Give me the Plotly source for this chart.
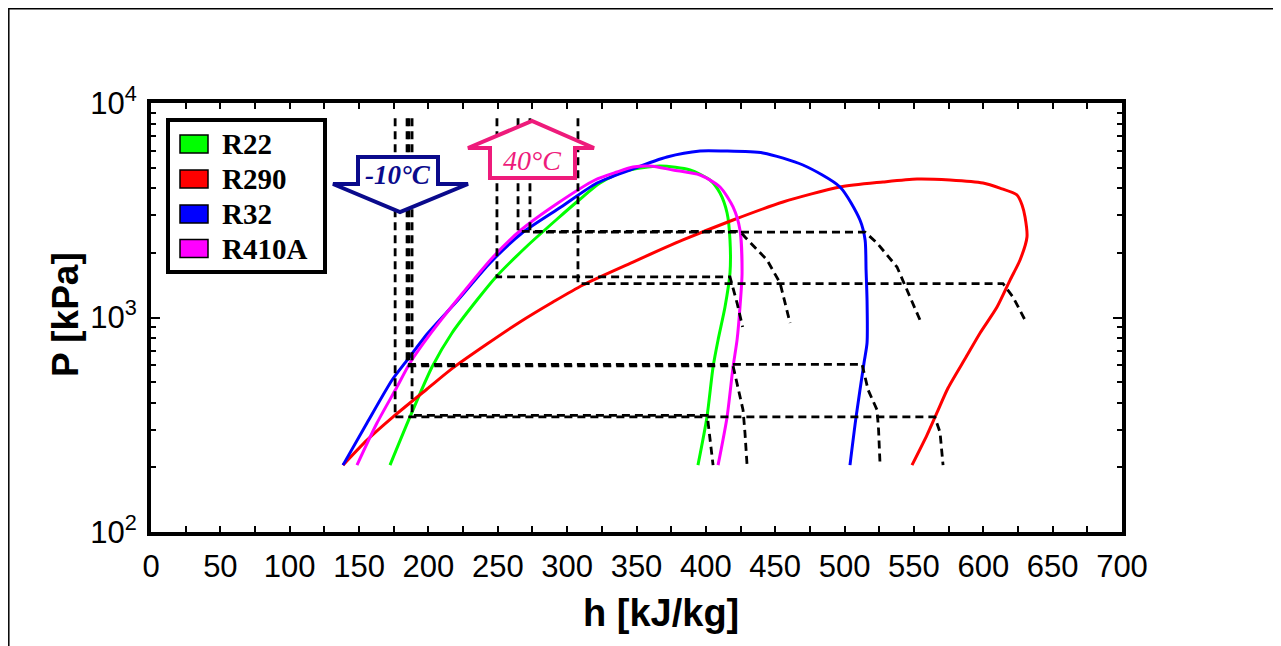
import plotly.graph_objects as go

# ---------------- data (h in kJ/kg, P in kPa) ----------------
refrigerants = ["R22", "R290", "R32", "R410A"]
colors = {"R22": "#00FF00", "R290": "#FF0000", "R32": "#0000FF", "R410A": "#FF00FF"}

# saturation domes (liquid branch -> critical region -> vapour branch)
r22_h = [172.3, 186.7, 202.6, 217.0, 235.0, 248.7, 270.4, 292.0, 308.6, 323.7, 341.7, 367.0,
         388.6, 403.0, 410.2, 415.3, 417.4, 417.4, 413.8, 408.8, 405.2, 400.8, 394.3]
r22_p = [205, 344, 588, 847, 1206, 1545, 2132, 2848, 3530, 4236, 4820, 5085,
         4872, 4375, 3805, 3070, 2298, 1613, 1119, 786, 588, 344, 205]

r290_h = [138.4, 155.7, 174.5, 199.0, 217.7, 242.2, 266.0, 289.8, 311.4, 347.5, 383.5, 419.6,
          455.6, 496.7, 527.7, 552.2, 576.0, 599.8, 612.0, 624.3, 628.0, 630.1, 631.5, 626.5,
          619.3, 609.9, 597.7, 587.6, 574.6, 566.7, 559.4, 548.6]
r290_p = [205, 268, 344, 464, 582, 752, 953, 1181, 1418, 1814, 2298, 2848,
          3455, 4059, 4283, 4423, 4375, 4236, 4010, 3725, 3340, 2941, 2373, 1854,
          1495, 1119, 847, 654, 469, 361, 283, 205]

r32_h = [138.4, 155.7, 173.8, 183.1, 199.7, 221.3, 244.4, 267.5, 295.6, 321.5, 345.3, 372.0,
         395.8, 412.4, 441.2, 470.0, 496.7, 511.1, 514.8, 515.5, 516.2, 516.2, 514.0, 508.3, 503.9]
r32_p = [205, 322, 511, 614, 847, 1206, 1795, 2477, 3275, 4236, 4872, 5603,
         5974, 5974, 5848, 5140, 4059, 2848, 2298, 1665, 1206, 761, 614, 344, 205]

r410a_h = [148.5, 162.9, 177.3, 186.7, 201.9, 220.6, 246.6, 266.7, 293.4, 320.1, 336.0, 347.5,
           359.8, 376.3, 395.8, 410.2, 419.6, 424.6, 426.1, 424.6, 422.5, 419.6, 415.3, 408.8]
r410a_p = [205, 322, 474, 614, 847, 1206, 1915, 2558, 3418, 4375, 4769, 5030,
           5085, 4872, 4617, 4059, 3275, 2558, 1613, 1119, 786, 588, 344, 205]

# isotherm lines (-10 °C and 40 °C) for each refrigerant
r22_m10_h = [188.2, 188.2, 401.0, 403.0, 405.2]
r22_m10_p = [8500, 350, 350, 270, 205]
r22_40_h = [249.4, 249.4, 417.4, 422.5, 426.5]
r22_40_p = [8500, 1545, 1545, 1168, 903]

r410a_m10_h = [186.0, 186.0, 419.6, 422.5, 426.8, 428.2, 429.7]
r410a_m10_p = [8500, 595, 595, 495, 371, 290, 205]
r410a_40_h = [264.6, 264.6, 424.8, 428.2, 444.1, 453.5, 460.7]
r410a_40_p = [8500, 2520, 2520, 2373, 1854, 1448, 943]

r32_m10_h = [184.6, 184.6, 512.6, 517.0, 523.4, 524.5, 525.6]
r32_m10_p = [8500, 605, 605, 459, 371, 300, 205]
r32_40_h = [273.2, 273.2, 514.8, 523.4, 537.8, 545.0, 554.4]
r32_40_p = [8500, 2500, 2500, 2225, 1720, 1343, 973]

r290_m10_h = [176.0, 176.0, 565.0, 568.8, 571.0]
r290_m10_p = [8500, 344, 344, 292, 205]
r290_40_h = [307.8, 307.8, 614.2, 621.4, 630.1]
r290_40_p = [8500, 1440, 1440, 1246, 973]

x_ticks = list(range(0, 701, 50))
y_ticks = [100, 1000, 10000]
y_ticktext = ["10<sup>2</sup>", "10<sup>3</sup>", "10<sup>4</sup>"]

# ---------------- figure ----------------
W, H = 1281, 646
OFF = 8  # page offset of the figure (body margin)
L, R, T, B = 143, 167, 95, 122
PW, PH = W - L - R, H - T - B


def px(x):  # page pixel -> paper x
    return (x - OFF - L) / PW


def py(y):  # page pixel -> paper y
    return (H - B - (y - OFF)) / PH


fig = go.Figure()

domes = {"R22": (r22_h, r22_p), "R290": (r290_h, r290_p),
         "R32": (r32_h, r32_p), "R410A": (r410a_h, r410a_p)}
for name in refrigerants:
    h, p = domes[name]
    fig.add_trace(go.Scatter(x=h, y=p, mode="lines", name=name, showlegend=False,
                             line=dict(color=colors[name], width=3, shape="spline", smoothing=0.7)))

iso = [(r22_m10_h, r22_m10_p), (r22_40_h, r22_40_p),
       (r410a_m10_h, r410a_m10_p), (r410a_40_h, r410a_40_p),
       (r32_m10_h, r32_m10_p), (r32_40_h, r32_40_p),
       (r290_m10_h, r290_m10_p), (r290_40_h, r290_40_p)]
for h, p in iso:
    fig.add_trace(go.Scatter(x=h, y=p, mode="lines", showlegend=False, hoverinfo="skip",
                             line=dict(color="black", width=2.8, dash="8px,5px")))

shapes = []
annotations = []

# outer frame
shapes.append(dict(type="rect", xref="paper", yref="paper",
                   x0=px(8.8), x1=px(1320), y0=py(700), y1=py(8.8),
                   line=dict(color="black", width=1.5), fillcolor="rgba(0,0,0,0)", layer="below"))


def poly(points):
    return "M " + " L ".join(f"{px(a):.5f},{py(b):.5f}" for a, b in points) + " Z"


# -10 °C arrow (down)
navy = "#0A0A8C"
shapes.append(dict(type="path", xref="paper", yref="paper",
                   path=poly([(358, 157), (438, 157), (438, 184), (468, 184), (400, 212),
                              (333, 184), (358, 184)]),
                   line=dict(color=navy, width=4), fillcolor="white", layer="above"))
annotations.append(dict(x=px(398), y=py(175), xref="paper", yref="paper", text="<b><i>-10°C</i></b>",
                        showarrow=False, font=dict(family="Liberation Serif", size=27, color=navy),
                        xanchor="center", yanchor="middle"))

# 40 °C arrow (up)
pink = "#EE1B7B"
shapes.append(dict(type="path", xref="paper", yref="paper",
                   path=poly([(490, 178), (575, 178), (575, 148), (594, 148), (532, 121),
                              (468, 148), (490, 148)]),
                   line=dict(color=pink, width=4), fillcolor="white", layer="above"))
annotations.append(dict(x=px(532), y=py(160), xref="paper", yref="paper", text="<i>40°C</i>",
                        showarrow=False, font=dict(family="Liberation Serif", size=28, color=pink),
                        xanchor="center", yanchor="middle"))

# legend (drawn manually)
shapes.append(dict(type="rect", xref="paper", yref="paper",
                   x0=px(168), x1=px(325), y0=py(272), y1=py(120),
                   line=dict(color="black", width=4), fillcolor="white", layer="above"))
rows = [144, 179, 214, 248.5]
for name, yc in zip(refrigerants, rows):
    shapes.append(dict(type="rect", xref="paper", yref="paper",
                       x0=px(180), x1=px(208), y0=py(yc + 9), y1=py(yc - 9),
                       line=dict(color="black", width=1.5), fillcolor=colors[name], layer="above"))
    annotations.append(dict(x=px(220), y=py(yc), xref="paper", yref="paper", text=f"<b>{name}</b>",
                            showarrow=False, font=dict(family="Liberation Serif", size=29, color="black"),
                            xanchor="left", yanchor="middle"))

# axis titles
annotations.append(dict(x=px(65), y=py(315), xref="paper", yref="paper", text="<b>P [kPa]</b>",
                        textangle=-90, showarrow=False,
                        font=dict(family="Liberation Sans", size=37, color="black"),
                        xanchor="center", yanchor="middle"))
annotations.append(dict(x=px(661), y=py(613), xref="paper", yref="paper", text="<b>h [kJ/kg]</b>",
                        showarrow=False, font=dict(family="Liberation Sans", size=38, color="black"),
                        xanchor="center", yanchor="middle"))

fig.update_layout(
    width=W, height=H,
    margin=dict(l=L, r=R, t=T, b=B, pad=0),
    paper_bgcolor="white", plot_bgcolor="white",
    shapes=shapes, annotations=annotations,
    showlegend=False,
    font=dict(family="Liberation Sans", color="black"),
)
fig.update_xaxes(range=[0, 700], tickvals=x_ticks, ticks="inside", ticklen=6, tickwidth=2,
                 tickcolor="black", showline=True, linewidth=4, linecolor="black", mirror="ticks",
                 showgrid=False, zeroline=False, tickfont=dict(size=31, color="black"),
                 ticklabelstandoff=4,
                 minor=dict(dtick=25, ticks="inside", ticklen=6, tickwidth=2, tickcolor="black",
                            showgrid=False))
fig.update_yaxes(type="log", range=[2, 4], tickvals=y_ticks, ticktext=y_ticktext,
                 ticks="inside", ticklen=9, tickwidth=2, tickcolor="black",
                 showline=True, linewidth=4, linecolor="black", mirror="ticks",
                 showgrid=False, zeroline=False, tickfont=dict(size=31, color="black"),
                 ticklabelstandoff=4,
                 minor=dict(dtick="D1", ticks="inside", ticklen=5, tickwidth=2, tickcolor="black",
                            showgrid=False))

fig.write_html("out.html")
